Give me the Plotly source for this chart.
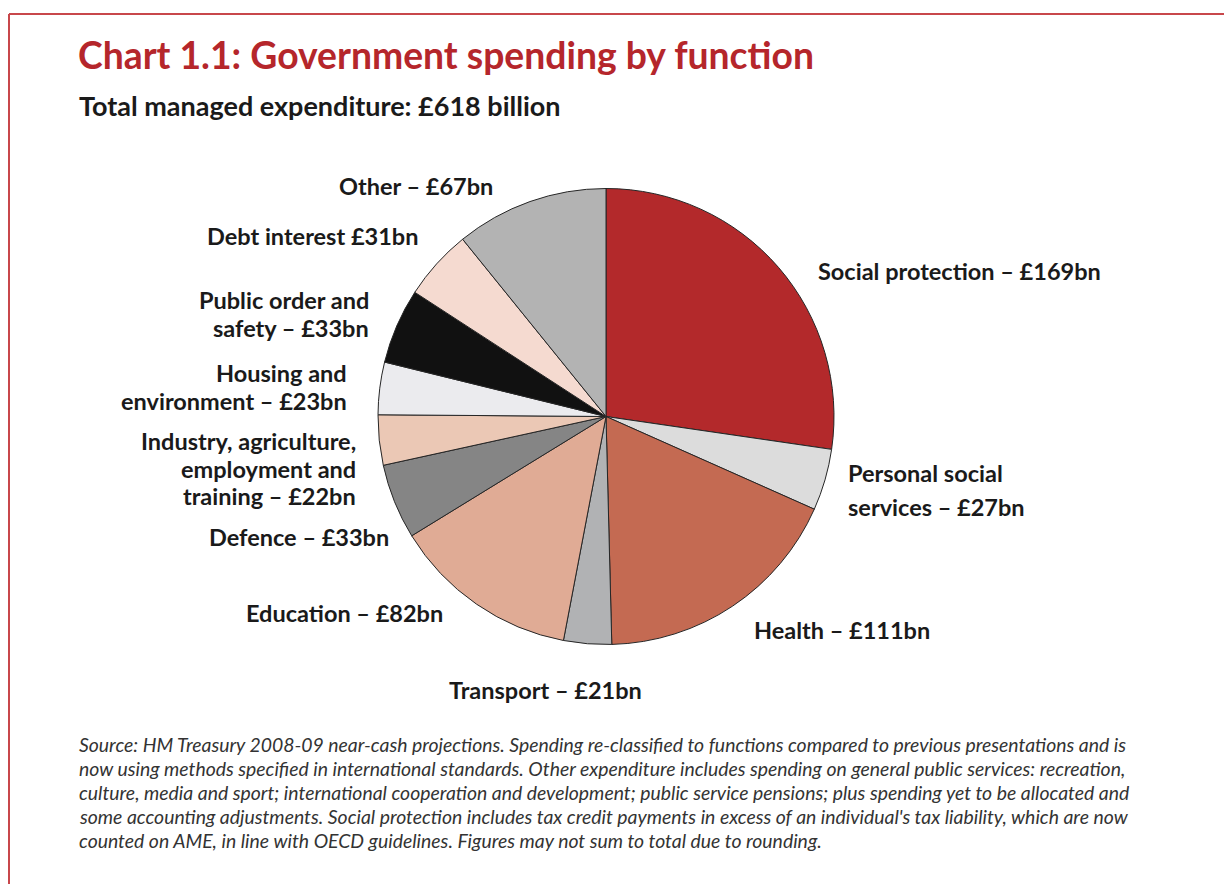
import plotly.graph_objects as go

W, H = 1232, 884
OFF = 8  # page offset of the figure in the browser

categories = ["Social protection", "Personal social services", "Health", "Transport",
              "Education", "Defence", "Industry, agriculture, employment and training",
              "Housing and environment", "Public order and safety", "Debt interest", "Other"]
values = [169, 27, 111, 21, 82, 33, 22, 23, 33, 31, 67]
colors = ["#b3292b", "#dcdcdc", "#c46a52", "#b1b2b4", "#e0ab95", "#858585",
          "#ebc8b5", "#ebebee", "#111111", "#f5dad0", "#b3b3b3"]
label_texts = [
    "Social protection – £169bn",
    "Personal social<br>services – £27bn",
    "Health – £111bn",
    "Transport – £21bn",
    "Education – £82bn",
    "Defence – £33bn",
    "Industry, agriculture,<br>employment and<br>training – £22bn",
    "Housing and<br>environment – £23bn",
    "Public order and<br>safety – £33bn",
    "Debt interest £31bn",
    "Other – £67bn",
]
# label anchor x (px), line y's (px), anchor side
label_pos = [
    (816, [271], "left"),
    (846, [473, 507], "left"),
    (752, [630], "left"),
    (447, [690], "left"),
    (445, [613], "right"),
    (391, [537], "right"),
    (358, [441, 469, 496], "right"),
    (349, [373, 401], "right"),
    (371, [300, 328], "right"),
    (420, [236], "right"),
    (495, [186], "right"),
]

title = "Chart 1.1: Government spending by function"
subtitle = "Total managed expenditure: £618 billion"
footnote_lines = [
    "Source: HM Treasury 2008-09 near-cash projections. Spending re-classified to functions compared to previous presentations and is",
    "now using methods specified in international standards. Other expenditure includes spending on general public services: recreation,",
    "culture, media and sport; international cooperation and development; public service pensions; plus spending yet to be allocated and",
    "some accounting adjustments. Social protection includes tax credit payments in excess of an individual's tax liability, which are now",
    "counted on AME, in line with OECD guidelines. Figures may not sum to total due to rounding.",
]
footnote_y = [744, 768, 792, 816, 840]

cx, cy, r = 606, 416.5, 228

def px(x):
    return (x - OFF) / W

def py(y):
    return 1 - (y - OFF) / H

fig = go.Figure(go.Pie(
    labels=categories, values=values, sort=False, direction="clockwise", rotation=0,
    marker=dict(colors=colors, line=dict(color="#262626", width=1)),
    textinfo="none", hoverinfo="label+value", showlegend=False,
    domain=dict(x=[px(cx - r), px(cx + r)], y=[py(cy + r), py(cy - r)]),
))

annotations = []
FONT = "Lato"
for txt, (x, ys, side) in zip(label_texts, label_pos):
    for line, y in zip(txt.split("<br>"), ys):
        annotations.append(dict(
            text=f"<b>{line}</b>", x=px(x), y=py(y), xref="paper", yref="paper",
            xanchor=side, yanchor="middle", showarrow=False,
            font=dict(family=FONT, size=23.5, color="#1a1a1a"),
        ))

annotations.append(dict(text=f"<b>{title}</b>", x=px(76), y=py(54), xref="paper", yref="paper",
                        xanchor="left", yanchor="middle", showarrow=False,
                        font=dict(family=FONT, size=37.3, color="#b5262b")))
annotations.append(dict(text=f"<b>{subtitle}</b>", x=px(77), y=py(105), xref="paper", yref="paper",
                        xanchor="left", yanchor="middle", showarrow=False,
                        font=dict(family=FONT, size=27, color="#1a1a1a")))
for line, y in zip(footnote_lines, footnote_y):
    annotations.append(dict(text=f"<i>{line}</i>", x=px(77), y=py(y), xref="paper", yref="paper",
                            xanchor="left", yanchor="middle", showarrow=False,
                            font=dict(family=FONT, size=19.4, color="#333333")))

fig.update_layout(
    width=W, height=H,
    margin=dict(l=0, r=0, t=0, b=0),
    paper_bgcolor="white", plot_bgcolor="white",
    annotations=annotations,
    shapes=[
        dict(type="line", xref="paper", yref="paper", x0=px(9), x1=1.0, y0=py(14), y1=py(14),
             line=dict(color="#c8474b", width=2)),
        dict(type="line", xref="paper", yref="paper", x0=px(9), x1=px(9), y0=py(14), y1=0,
             line=dict(color="#c8474b", width=2)),
    ],
)

fig.write_html("out.html")
